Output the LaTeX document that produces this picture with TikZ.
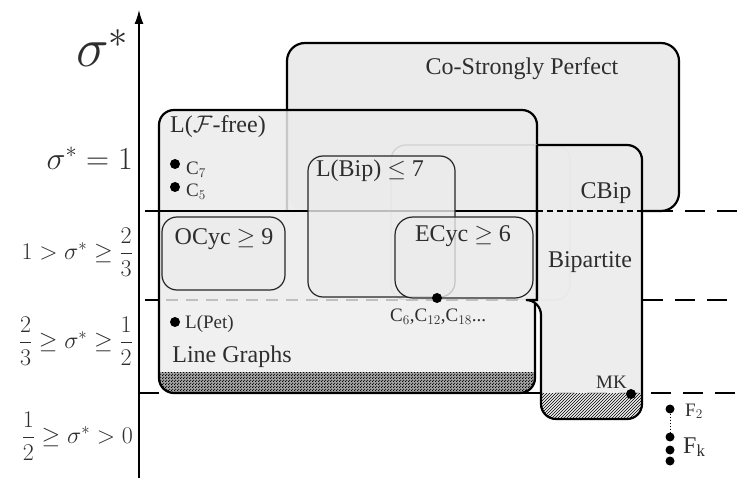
\RequirePackage{fix-cm}
\documentclass[tikz,border=0pt]{standalone}
\usepackage{amsmath,amssymb}
\usepackage{fontspec}
\setmainfont{Liberation Serif}
\usepackage{tikz}
\usetikzlibrary{patterns,arrows.meta,positioning}
\colorlet{boxfill}{black!8}
\colorlet{lgfill}{black!6}
\colorlet{txtcol}{black!82}
\pgfdeclarepatternformonly{checkdots}{\pgfqpoint{0pt}{0pt}}{\pgfqpoint{3pt}{3pt}}{\pgfqpoint{3pt}{3pt}}{
  \pgfpathcircle{\pgfqpoint{0.75pt}{0.75pt}}{0.85pt}
  \pgfpathcircle{\pgfqpoint{2.25pt}{2.25pt}}{0.85pt}
  \pgfusepath{fill}
}
\tikzstyle{boxline}=[line width=2.2pt,black]
\tikzstyle{subbox}=[draw=black!85,line width=1.2pt,fill=boxfill,fill opacity=0.8,rounded corners=15pt]
\tikzstyle{sepline}=[line width=2pt,dash pattern=on 20pt off 12pt]
\tikzstyle{member}=[circle,fill=black,inner sep=0pt,minimum size=10pt]
\tikzstyle{boxtext}=[font=\fontsize{24}{28}\selectfont,text=txtcol,inner sep=0pt]
\tikzstyle{dottext}=[font=\fontsize{19}{22}\selectfont,text=txtcol,inner sep=0pt]
\tikzstyle{levellabel}=[text=txtcol,inner sep=0pt,anchor=east]
\begin{document}
\begin{tikzpicture}[x=1pt,y=-1pt]
  \useasboundingbox (0,0) rectangle (739,478);

  % LEVELS
  \draw[sepline] (653,211) -- (739,211);
  \draw[sepline] (643,300) -- (739,300);
  \draw[sepline] (139,393) -- (739,393);

  % CO-STRONGLY PERFECT
  \fill[boxfill,rounded corners=18pt] (287,43) rectangle (679,211);
  \draw[boxline,rounded corners=18pt] (287,211) -- (287,43) -- (679,43) -- (679,211) -- (640,211);

  % L(F-FREE)
  \fill[boxfill,fill opacity=0.85,rounded corners=15pt] (159,300) -- (159,110) -- (537,110) -- (537,300);
  \draw[boxline,rounded corners=15pt] (159,300) -- (159,110) -- (537,110) -- (537,300);
  \draw[black!18,line width=1.2pt,rounded corners=15pt] (391,145) rectangle (570,300);
  \draw[boxline] (145,211) -- (537,211);

  % INNER CLASSES
  \path[subbox] (308,156) rectangle (455,297);
  \path[subbox] (162,217) rectangle (285,290);
  \path[subbox,rounded corners=18pt] (395,217) rectangle (533,298);

  % LINE GRAPHS
  \fill[lgfill,rounded corners=15pt] (159,300) -- (159,393) -- (535,393) -- (535,300);
  \fill[black!35,rounded corners=15pt] (159,372) -- (159,393) -- (535,393) -- (535,372);
  \fill[pattern=checkdots,rounded corners=15pt] (159,372) -- (159,393) -- (535,393) -- (535,372);
  \draw[boxline,rounded corners=15pt] (159,300) -- (159,393) -- (535,393) -- (535,300);
  \draw[black!25,line width=2pt,dash pattern=on 12pt off 8pt] (166,300) -- (535,300);
  \draw[boxline] (145,300) -- (159,300);

  % BIPARTITE
  \fill[boxfill,fill opacity=0.88] (537,145) [rounded corners=15pt] -- (642,145) -- (642,419) -- (541,419) -- (541,300) [sharp corners] -- (537,300) -- (537,145);
  \fill[pattern=north east lines,rounded corners=15pt] (541,393) -- (541,419) -- (642,419) -- (642,393);
  \draw[boxline] (537,145) [rounded corners=15pt] -- (642,145) -- (642,419) -- (541,419) -- (541,300) [sharp corners] -- (537,300) -- (537,145);
  \draw[line width=1.2pt,dash pattern=on 6pt off 4pt] (537,211) -- (642,211);

  % AXIS
  \draw[line width=1.3pt,-{Latex[length=14pt,width=9pt]}] (139,478) -- (139,10);

  % LEVEL LABELS
  \node[inner sep=0pt,anchor=base west,text=txtcol,font=\fontsize{55}{60}\selectfont] (sigma) at (76,67) {$\sigma^*$};
  \node[levellabel,font=\fontsize{32}{36}\selectfont] (lvone) at (133,158) {$\sigma^* = 1$};
  \node[levellabel,font=\fontsize{24}{28}\selectfont] (lvtwo) at (133,252) {$1 > \sigma^* \geq \dfrac{2}{3}$};
  \node[levellabel,font=\fontsize{24}{28}\selectfont] (lvthree) at (133,341) {$\dfrac{2}{3} \geq \sigma^* \geq \dfrac{1}{2}$};
  \node[levellabel,font=\fontsize{24}{28}\selectfont] (lvfour) at (133,436) {$\dfrac{1}{2} \geq \sigma^* > 0$};

  % CLASS LABELS
  \node[boxtext] (csp) at (522,69) {Co-Strongly Perfect};
  \node[boxtext] (lff) at (218,127) {L($\mathcal{F}$-free)};
  \node[boxtext] (lbip) at (370,171) {L(Bip) $\leq$ 7};
  \node[boxtext] (ocyc) at (224,239) {OCyc $\geq$ 9};
  \node[boxtext] (ecyc) at (463,236) {ECyc $\geq$ 6};
  \node[boxtext] (cbip) at (606,193) {CBip};
  \node[boxtext] (bip) at (590,262) {Bipartite};
  \node[boxtext] (lg) at (232,357) {Line Graphs};

  % GRAPHS
  \node[member] (c7) at (175,164) {};
  \node[member] (c5) at (175,187) {};
  \node[member] (pet) at (175,322) {};
  \node[member] (ceven) at (437,298) {};
  \node[member] (mk) at (631,394) {};
  \node[member,minimum size=9pt] (f2) at (670,409) {};
  \node[member,minimum size=9pt] (fk) at (670,437) {};
  \node[member,minimum size=9pt] (fkb) at (670,450) {};
  \node[member,minimum size=9pt] (fkc) at (670,461) {};
  \draw[dotted,line width=1pt] (f2) -- (fk);
  \node[dottext,anchor=base west] (c7lab) at (186,175) {C$_7$};
  \node[dottext,anchor=base west] (c5lab) at (186,197) {C$_5$};
  \node[dottext,anchor=base west] (petlab) at (185,328) {L(Pet)};
  \node[dottext,anchor=base west] (cevenlab) at (390,322) {C$_6$,C$_{12}$,C$_{18}$...};
  \node[dottext,anchor=base east] (mklab) at (627,388) {MK};
  \node[dottext,anchor=base west] (f2lab) at (685,416) {F$_2$};
  \node[boxtext,anchor=base west] (fklab) at (683,453) {F$_\text{k}$};
\end{tikzpicture}
\end{document}
